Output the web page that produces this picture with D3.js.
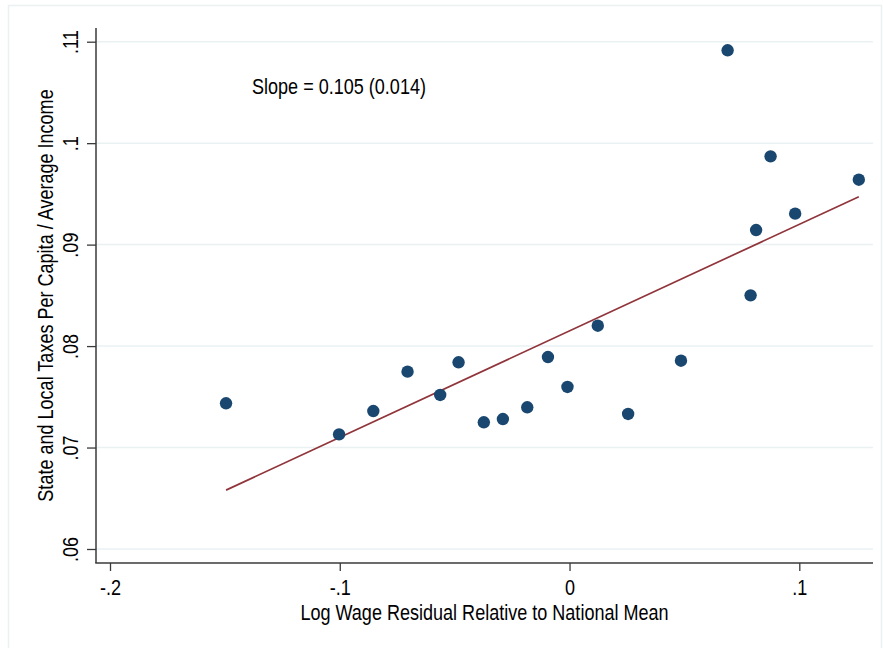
<!DOCTYPE html>
<html>
<head>
<meta charset="utf-8">
<script src="https://cdn.jsdelivr.net/npm/d3@7"></script>
<style>
  html, body { margin: 0; padding: 0; background: #ffffff; }
  svg { display: block; }
  text { font-family: "Liberation Sans", Arial, sans-serif; fill: #000; }
</style>
</head>
<body>
<svg id="chart" width="883" height="648"></svg>
<script>
// ---- data ----
const wageResidual = [-0.1495, -0.1003, -0.0854, -0.0705, -0.0563, -0.0483, -0.0373, -0.0290, -0.0184, -0.0094,
                      -0.0009, 0.0123, 0.0255, 0.0485, 0.0688, 0.0788, 0.0812, 0.0875, 0.0982, 0.1259];
const taxShare     = [0.07436, 0.07130, 0.07360, 0.07748, 0.07518, 0.07840, 0.07249, 0.07281, 0.07397, 0.07892,
                      0.07597, 0.08201, 0.07331, 0.07856, 0.10915, 0.08500, 0.09144, 0.09870, 0.09305, 0.09640];
const fitSlope = 0.105;
const fitIntercept = 0.0815;
const xTicks = [-0.2, -0.1, 0, 0.1];
const xTickLabels = ["-.2", "-.1", "0", ".1"];
const yTicks = [0.06, 0.07, 0.08, 0.09, 0.10, 0.11];
const yTickLabels = [".06", ".07", ".08", ".09", ".1", ".11"];
const xTitle = "Log Wage Residual Relative to National Mean";
const yTitle = "State and Local Taxes Per Capita / Average Income";
const annotation = "Slope = 0.105 (0.014)";

// ---- layout ----
const svg = d3.select("#chart");
const plotLeft = 96, plotRight = 873, plotTop = 28, plotBottom = 563;
const x = d3.scaleLinear().domain([-0.2, 0.1]).range([110, 799.3]);
const y = d3.scaleLinear().domain([0.06, 0.11]).range([549, 41.7]);
const narrow = 0.82;   // condensed look of the original (Arial Narrow-like)
const fs = "22px";

// outer frame
svg.append("rect")
  .attr("x", 8.5).attr("y", 5.5).attr("width", 873).attr("height", 660)
  .attr("fill", "none").attr("stroke", "#eaf1f3").attr("stroke-width", 1.5);

// gridlines
svg.append("g").selectAll("line").data(yTicks).join("line")
  .attr("x1", plotLeft).attr("x2", plotRight)
  .attr("y1", d => y(d)).attr("y2", d => y(d))
  .attr("stroke", "#eaf1f3").attr("stroke-width", 1.5);

// y axis
const yAxis = d3.axisLeft(y).tickValues(yTicks).tickFormat((d, i) => yTickLabels[i]).tickSize(9).tickPadding(0);
const gy = svg.append("g").attr("transform", `translate(${plotLeft},0)`).call(yAxis);
gy.select(".domain").remove();
gy.selectAll(".tick line").attr("stroke", "#3a3a3a").attr("stroke-width", 1.3);
gy.selectAll(".tick text")
  .attr("x", 0).attr("dy", null).attr("y", 0)
  .attr("transform", `translate(-18,0) rotate(-90) scale(${narrow},1)`)
  .attr("text-anchor", "middle")
  .style("font-size", fs)
  .style("font-family", '"Liberation Sans", Arial, sans-serif')
  .attr("fill", "#000");

// x axis
const xAxis = d3.axisBottom(x).tickValues(xTicks).tickFormat((d, i) => xTickLabels[i]).tickSize(8).tickPadding(0);
const gx = svg.append("g").attr("transform", `translate(0,${plotBottom})`).call(xAxis);
gx.select(".domain").remove();
gx.selectAll(".tick line").attr("stroke", "#3a3a3a").attr("stroke-width", 1.3);
gx.selectAll(".tick text")
  .attr("y", 0).attr("dy", null)
  .attr("transform", `translate(0,32) scale(${narrow},1)`)
  .style("font-size", fs)
  .style("font-family", '"Liberation Sans", Arial, sans-serif')
  .attr("fill", "#000");

// axis lines
svg.append("line").attr("x1", plotLeft).attr("x2", plotLeft).attr("y1", plotTop).attr("y2", plotBottom)
  .attr("stroke", "#3a3a3a").attr("stroke-width", 1.5);
svg.append("line").attr("x1", plotLeft - 0.75).attr("x2", plotRight).attr("y1", plotBottom).attr("y2", plotBottom)
  .attr("stroke", "#3a3a3a").attr("stroke-width", 1.5);

// fit line
const xr = d3.extent(wageResidual);
svg.append("line")
  .attr("x1", x(xr[0])).attr("y1", y(fitIntercept + fitSlope * xr[0]))
  .attr("x2", x(xr[1])).attr("y2", y(fitIntercept + fitSlope * xr[1]))
  .attr("stroke", "#90353b").attr("stroke-width", 1.7);

// points
svg.append("g").selectAll("circle").data(wageResidual).join("circle")
  .attr("cx", d => x(d)).attr("cy", (d, i) => y(taxShare[i])).attr("r", 6.2)
  .attr("fill", "#1a476f");

// annotation
svg.append("text").attr("transform", `translate(252,94) scale(${narrow},1)`)
  .style("font-size", fs).text(annotation);

// axis titles
svg.append("text").attr("transform", `translate(${(plotLeft + plotRight) / 2},620) scale(${narrow},1)`)
  .attr("text-anchor", "middle").style("font-size", fs).text(xTitle);
svg.append("text").attr("transform", `translate(53,${(plotTop + plotBottom) / 2}) rotate(-90) scale(${narrow},1)`)
  .attr("text-anchor", "middle").style("font-size", fs).text(yTitle);
</script>
</body>
</html>
